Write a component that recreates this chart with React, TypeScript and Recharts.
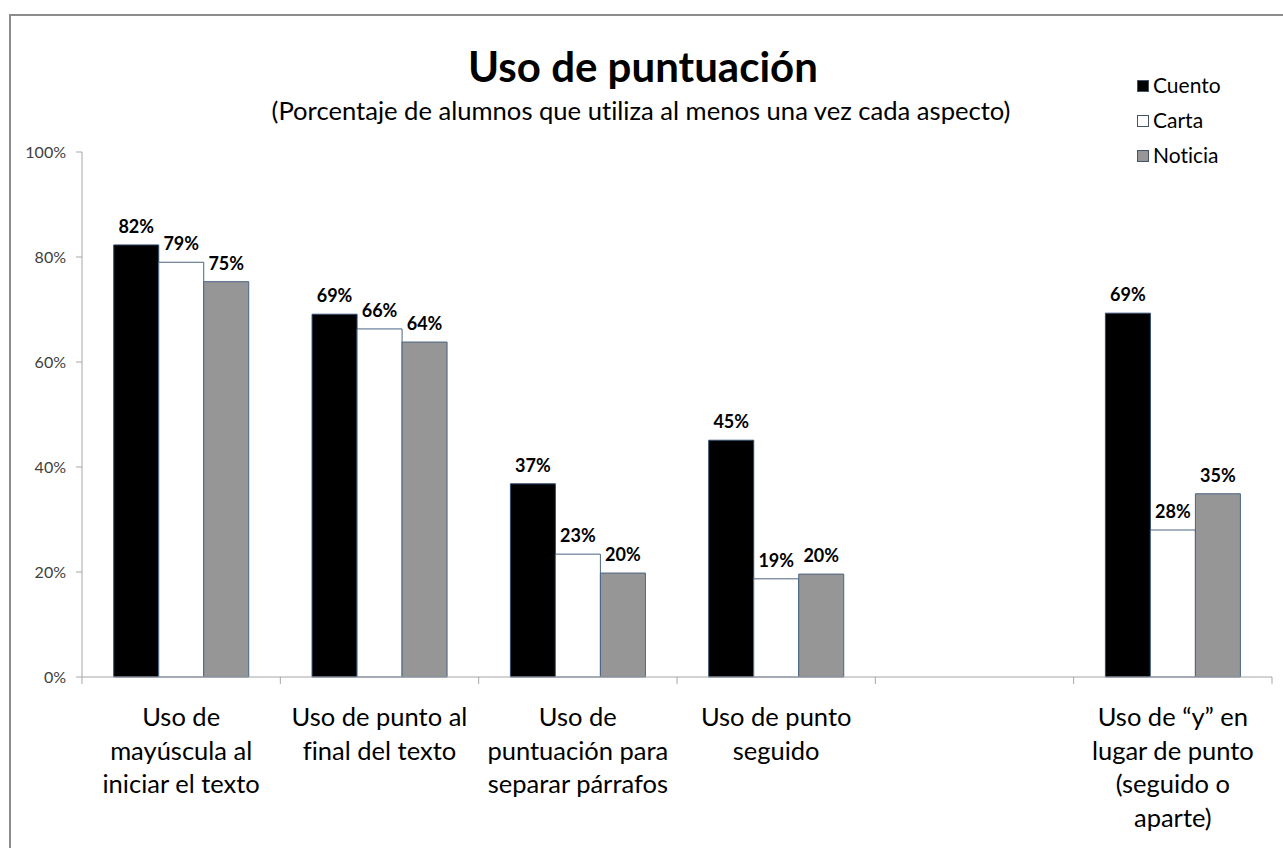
import React from "react";
import { BarChart, Bar, XAxis, YAxis, LabelList } from "recharts";

const categories = [
  "Uso de\nmayúscula al\niniciar el texto",
  "Uso de punto al\nfinal del texto",
  "Uso de\npuntuación para\nseparar párrafos",
  "Uso de punto\nseguido",
  "",
  "Uso de “y” en\nlugar de punto\n(seguido o\naparte)",
];
const cuento = [82.3, 69.1, 36.8, 45.1, null, 69.3];
const carta = [79.0, 66.3, 23.4, 18.7, null, 28.0];
const noticia = [75.3, 63.8, 19.8, 19.6, null, 34.9];
const yTicks = [0, 20, 40, 60, 80, 100];
const seriesNames = ["Cuento", "Carta", "Noticia"];
const seriesColors = ["#000000", "#ffffff", "#969696"];

const data = categories.map((c, i) => ({
  cat: c,
  cuento: cuento[i],
  carta: carta[i],
  noticia: noticia[i],
}));

const W = 1283;
const H = 848;
const LEFT = 82;
const RIGHT = 11;
const TOP = 152;
const XH = 171;
const BAND = (W - LEFT - RIGHT) / categories.length;
const FONT = "Lato, 'Open Sans', sans-serif";

const CatTick = (props: any) => {
  const { x, y, payload, index } = props;
  const lines = String(payload.value).split("\n");
  const isLast = index === categories.length - 1;
  return (
    <g>
      <line x1={x - BAND / 2} x2={x - BAND / 2} y1={y} y2={y + 7} stroke="#a6a6a6" />
      {isLast && <line x1={x + BAND / 2} x2={x + BAND / 2} y1={y} y2={y + 7} stroke="#a6a6a6" />}
      <text x={x} y={y} textAnchor="middle" fontFamily={FONT} fontSize={25.5} fill="#000">
        {lines.map((l, i) => (
          <tspan key={i} x={x} dy={i === 0 ? 49 : 33.5}>
            {l}
          </tspan>
        ))}
      </text>
    </g>
  );
};

const fmt = (v: any) => (v == null ? "" : `${Math.round(v)}%`);
const labelStyle = { fontFamily: FONT, fontSize: 18, fontWeight: "bold", fill: "#000" } as any;

export default function App() {
  return (
    <div
      style={{
        position: "absolute",
        left: 0,
        top: 0,
        width: W,
        height: H,
        overflow: "hidden",
        background: "#fff",
        fontVariantLigatures: "none",
        fontFeatureSettings: '"liga" 0, "clig" 0',
      }}
    >
      <div
        style={{
          position: "absolute",
          left: 9,
          top: 14,
          width: 1300,
          height: 900,
          border: "2px solid #8c8c8c",
          boxSizing: "border-box",
        }}
      />
      <svg width={W} height={H} style={{ position: "absolute", left: 0, top: 0 }}>
        <text x={643} y={82} textAnchor="middle" fontFamily={FONT} fontWeight="bold" fontSize={42} fill="#000">
          Uso de puntuación
        </text>
        <text x={641} y={120} textAnchor="middle" fontFamily={FONT} fontSize={25.6} fill="#000">
          (Porcentaje de alumnos que utiliza al menos una vez cada aspecto)
        </text>
        {seriesNames.map((n, i) => (
          <g key={n}>
            <rect x={1137.5} y={80.5 + i * 35} width={11} height={11} fill={seriesColors[i]} stroke="#44546a" strokeWidth={1} />
            <text x={1153} y={93 + i * 35} fontFamily={FONT} fontSize={21} fill="#000">
              {n}
            </text>
          </g>
        ))}
      </svg>
      <div style={{ position: "absolute", left: 0, top: 0 }}>
        <BarChart
          width={W}
          height={H}
          data={data}
          margin={{ top: TOP, right: RIGHT, bottom: 0, left: 0 }}
          barCategoryGap="16%"
          barGap={0}
        >
          <YAxis
            width={LEFT}
            domain={[0, 100]}
            ticks={yTicks}
            tickFormatter={(v: number) => `${v}%`}
            axisLine={{ stroke: "#a6a6a6" }}
            tickLine={{ stroke: "#a6a6a6" }}
            tickSize={6}
            tickMargin={10}
            tick={{ fontFamily: FONT, fontSize: 16, fill: "#404040" }}
            interval={0}
          />
          <XAxis
            dataKey="cat"
            height={XH}
            axisLine={{ stroke: "#a6a6a6" }}
            tickLine={false}
            tickSize={0}
            tickMargin={0}
            interval={0}
            tick={<CatTick />}
          />
          <Bar dataKey="cuento" name="Cuento" fill="#000000" stroke="#2f4b6e" strokeWidth={1} isAnimationActive={false}>
            <LabelList dataKey="cuento" position="top" offset={12} formatter={fmt} style={labelStyle} />
          </Bar>
          <Bar dataKey="carta" name="Carta" fill="#ffffff" stroke="#4a6484" strokeWidth={1} isAnimationActive={false}>
            <LabelList dataKey="carta" position="top" offset={12} formatter={fmt} style={labelStyle} />
          </Bar>
          <Bar dataKey="noticia" name="Noticia" fill="#969696" stroke="#4a6484" strokeWidth={1} isAnimationActive={false}>
            <LabelList dataKey="noticia" position="top" offset={12} formatter={fmt} style={labelStyle} />
          </Bar>
        </BarChart>
      </div>
    </div>
  );
}
